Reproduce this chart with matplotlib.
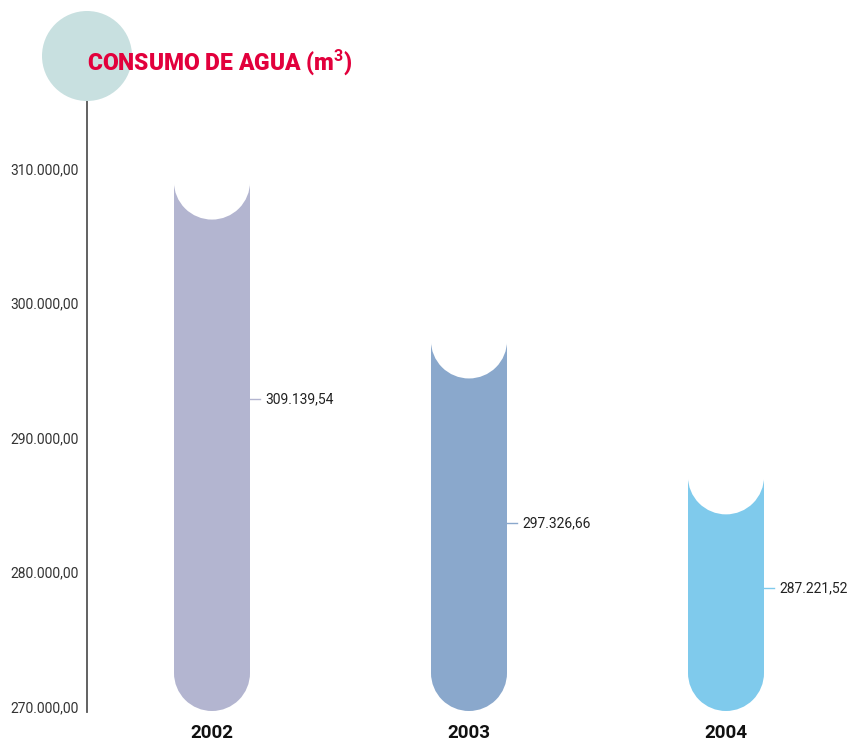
import matplotlib
matplotlib.use('Agg')
import matplotlib.pyplot as plt
from matplotlib.patches import Rectangle, Ellipse, Circle

plt.rcParams['mathtext.fontset'] = 'custom'
plt.rcParams['mathtext.bf'] = 'Roboto:bold'
plt.rcParams['mathtext.rm'] = 'Roboto'

# data
years = ['2002', '2003', '2004']
consumo = [309139.54, 297326.66, 287221.52]
y_ticks = [270000, 280000, 290000, 300000, 310000]
bar_colors = ['#b3b5d0', '#8aa8cc', '#7fcaec']

# where the small value labels sit (pixel rows from the top)
label_rows = [399, 523, 588]

W, H = 850, 742


def fmt(v):
    # 309139.54 -> 309.139,54
    s = '{:,.2f}'.format(v)
    return s.replace(',', 'X').replace('.', ',').replace('X', '.')


fig = plt.figure(figsize=(W / 100, H / 100), dpi=100)
ax = fig.add_axes([0, 0, 1, 1])
ax.set_axis_off()

# map: bar 0 centred at px 212, spacing 257 px; 270k at row 708, 310k at row 170
px_x = 257.0
x0_px = 212.0
ax.set_xlim(-x0_px / px_x, (len(years) - 1) + (W - x0_px - (len(years) - 1) * px_x) / px_x)
upp = (y_ticks[-1] - y_ticks[0]) / (708 - 170)   # units per pixel in y
ax.set_ylim(y_ticks[0] - (H - 708) * upp, y_ticks[-1] + 170 * upp)


def row_to_y(row):
    return y_ticks[0] + (708 - row) * upp


def px_to_x(px):
    return (px - x0_px) / px_x


bar_w = 76 / px_x
r_x = bar_w / 2
r_y = 38 * upp
bottom = row_to_y(711)

for i, (val, c) in enumerate(zip(consumo, bar_colors)):
    # straight body
    ax.add_patch(Rectangle((i - r_x, bottom + r_y), bar_w, val - bottom - r_y,
                           facecolor=c, edgecolor='none', zorder=2))
    # round bottom
    ax.add_patch(Ellipse((i, bottom + r_y), bar_w, 2 * r_y,
                         facecolor=c, edgecolor='none', zorder=2))
    # concave top
    ax.add_patch(Ellipse((i, val), bar_w * 1.002, 2 * r_y,
                         facecolor='white', edgecolor='none', zorder=3))
    # value label with little leader
    ly = row_to_y(label_rows[i])
    ax.plot([i + r_x, i + r_x + 10 / px_x], [ly, ly], color=c, lw=1, zorder=3)
    ax.text(i + r_x + 15 / px_x, ly, fmt(val), ha='left', va='center',
            fontsize=10, color='#222222', family=['Roboto', 'DejaVu Sans'])
    # year label
    ax.text(i, row_to_y(733), years[i], ha='center', va='center',
            fontsize=13.5, fontweight='bold', color='#111111',
            family=['Liberation Sans Narrow', 'Roboto', 'DejaVu Sans'])

# y tick labels
for t in y_ticks:
    ax.text(px_to_x(79), t, fmt(t), ha='right', va='center',
            fontsize=10, color='#333333', family=['Roboto', 'DejaVu Sans'])

# vertical axis line
ax.axvline(px_to_x(87), ymin=(H - 712) / H, ymax=(H - 101) / H,
           color='#555555', lw=1.3, zorder=1)

# decorative circle and title
fig.patches.append(Circle((0.87, (H - 56) / 100), 0.45, transform=fig.dpi_scale_trans,
                          facecolor='#c8e0e0', edgecolor='none', zorder=0))
fig.text(87 / W, 1 - 62 / H, 'CONSUMO DE AGUA (m$^{\\mathbf{3}}$)', ha='left', va='center',
         fontsize=16.5, fontweight='heavy', color='#e2003c',
         family=['Roboto', 'DejaVu Sans'], zorder=5)

fig.savefig('out.png', dpi=100, facecolor='white')
